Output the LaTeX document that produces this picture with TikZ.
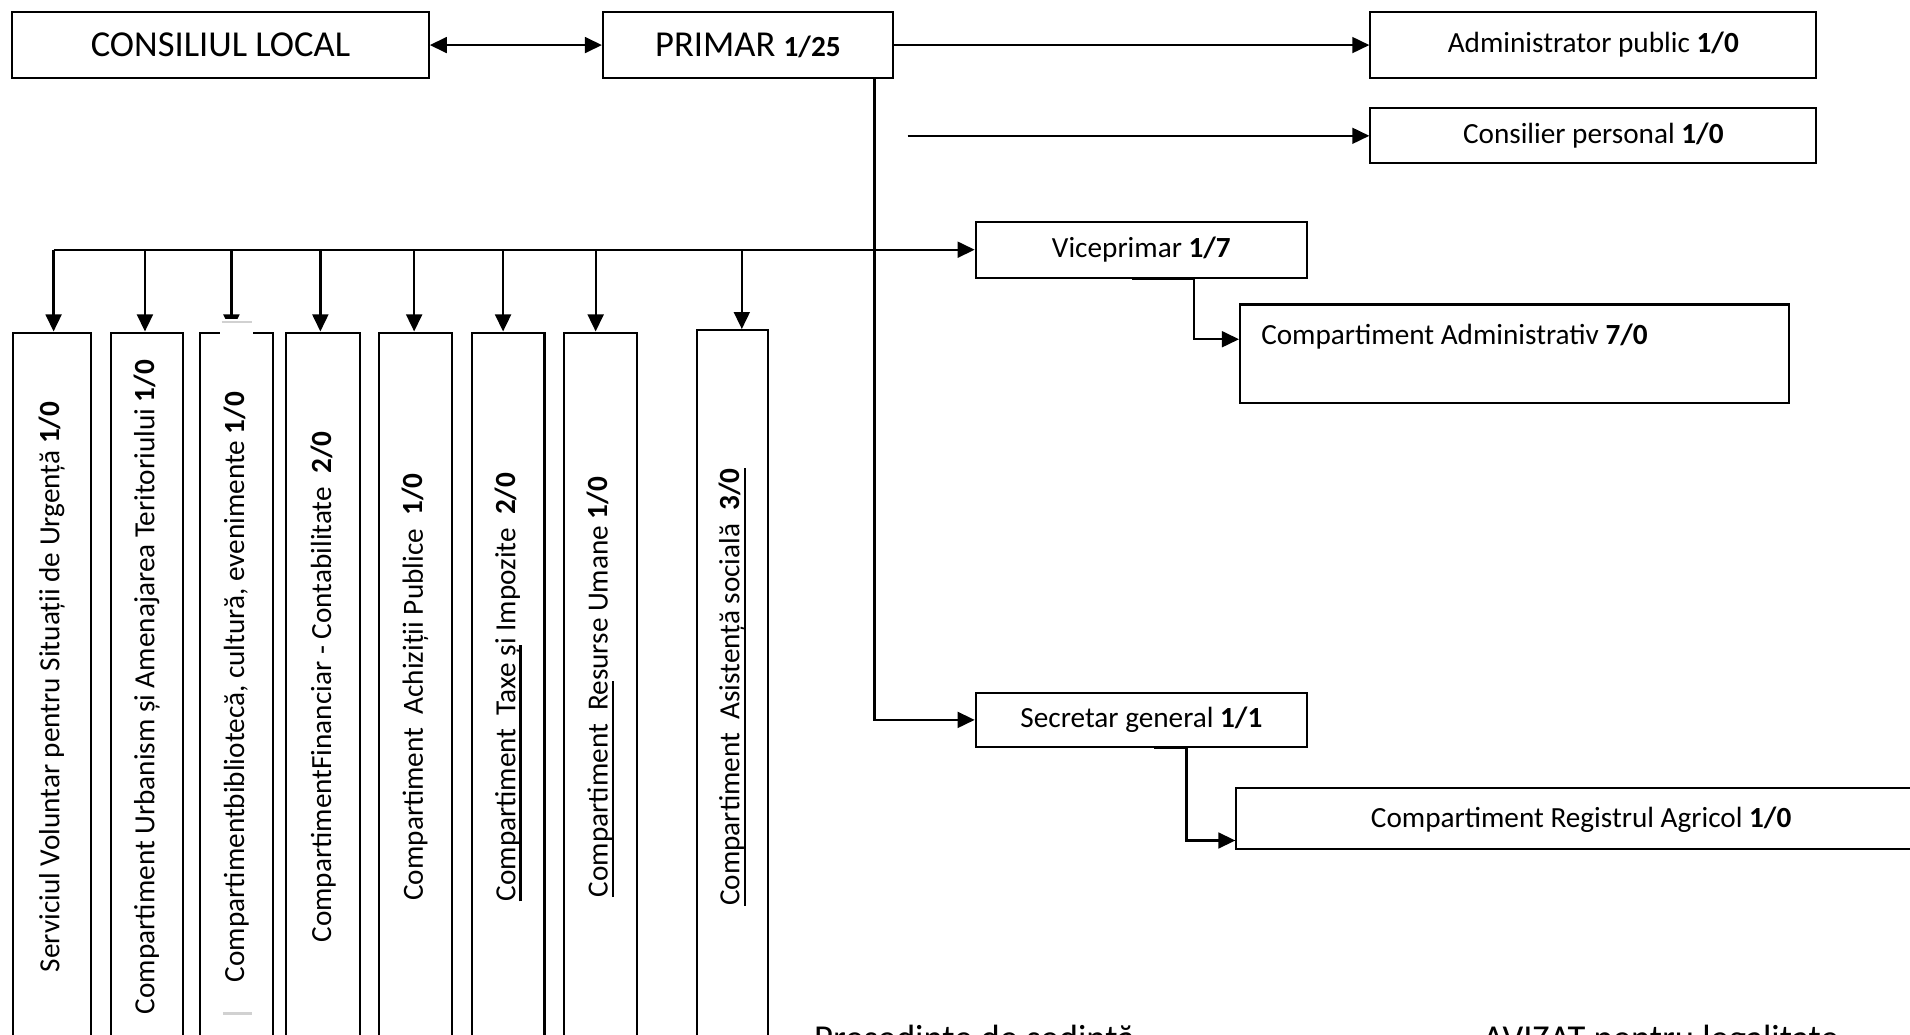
\documentclass[tikz,border=0pt]{standalone}
\usepackage{fontspec}
\setmainfont{Carlito}
\usetikzlibrary{arrows.meta,calc}
\newcommand{\myul}[1]{\setbox0\hbox{#1}\rlap{\rule[-2.6pt]{\wd0}{0.9pt}}\box0}
\begin{document}
\begin{tikzpicture}[x=0.5pt,y=-0.5pt,
  box/.style={draw,line width=0.85pt,inner sep=0pt,font=\fontsize{12}{14}\selectfont},
  bigbox/.style={box,font=\fontsize{15}{18}\selectfont},
  vbox/.style={box,rotate=90,minimum width=291pt},
  lbl/.style={inner sep=0pt,font=\fontsize{12}{14}\selectfont},
  conn/.style={line width=0.95pt},
  arr/.style={conn,-{Triangle[length=7pt,width=6.5pt]}},
  darr/.style={conn,{Triangle[length=7pt,width=6.5pt]}-{Triangle[length=7pt,width=6.5pt]}},
]
\clip (0,0) rectangle (1568,849);
\fill[white] (0,0) rectangle (1568,849);

% top row
\node[bigbox,minimum width=171pt,minimum height=27pt] (cl) at (181,37) {CONSILIUL LOCAL};
\node[bigbox,minimum width=119pt,minimum height=27pt] (primar) at (614,37) {PRIMAR {\fontsize{12}{14}\selectfont\bfseries 1/25}};
\node[box,minimum width=183pt,minimum height=27pt] (admin) at (1308,37) {Administrator public \textbf{1/0}};
\node[box,minimum width=183pt,minimum height=22.5pt] (cons) at (1308,111.5) {Consilier personal \textbf{1/0}};

% right column
\node[box,minimum width=136pt,minimum height=23pt] (vice) at (937,205) {Viceprimar \textbf{1/7}};
\node[box,minimum width=225.5pt,minimum height=40.5pt] (cadm) at (1243.5,290.5) {};
\node[lbl,anchor=west] (cadmt) at (1035,276) {Compartiment Administrativ \textbf{7/0}};
\node[box,minimum width=136pt,minimum height=22pt] (secr) at (937,591) {Secretar general \textbf{1/1}};
\node[box,minimum width=302.5pt,minimum height=25pt] (reg) at (1317.5,672) {};
\node[lbl] (regt) at (1298,673) {Compartiment Registrul Agricol \textbf{1/0}};

% vertical boxes
\node[vbox,minimum height=32pt] (b1) at (42.5,564) {Serviciul Voluntar pentru Situații de Urgență \textbf{1/0}};
\node[vbox,minimum height=29.5pt] (b2) at (120.5,564) {Compartiment Urbanism și Amenajarea Teritoriului \textbf{1/0}};
\node[vbox,minimum height=30pt] (b3) at (194,564) {Compartimentbibliotecă, cultură, evenimente \textbf{1/0}};
\node[vbox,minimum height=30.25pt] (b4) at (265.25,564) {CompartimentFinanciar - Contabilitate\ \ \textbf{2/0}};
\node[vbox,minimum height=30pt] (b5) at (341,564) {Compartiment\ \ Achiziții Publice\ \ \textbf{1/0}};
\node[vbox,minimum height=29.75pt] (b6) at (417.25,564) {\myul{Compartiment\ \ Taxe ș}i Impozite\ \ \textbf{2/0}};
\node[vbox,minimum height=30pt] (b7) at (493,564) {\myul{Compartiment\ \ Re}surse Umane \textbf{1/0}};
\node[vbox,minimum height=29.25pt,minimum width=293pt] (b8) at (601.25,564) {\myul{Compartiment\ \ Asistență socială\ \ \textbf{3/0}}};

% bottom texts (cut by the lower edge, as in the reference)
\node[anchor=base west,inner sep=0pt,font=\fontsize{15}{18}\selectfont] (pres) at (668,862) {Președinte de ședință};
\node[anchor=base west,inner sep=0pt,font=\fontsize{15}{18}\selectfont] (aviz) at (1217,862) {AVIZAT pentru legalitate};

% connectors
\draw[darr] (cl.east) -- (primar.west);
\draw[arr] (primar.east) -- (admin.west);
\coordinate (cs) at (745,111.5);
\draw[arr] (cs) -- (cons.west);
\coordinate (pd) at (718,591);
\draw[arr] (primar.south -| pd) -- (pd) -- (secr.west);

\coordinate (j1) at (44,205);
\coordinate (j2) at (119,205);
\coordinate (j3) at (190,205);
\coordinate (j4) at (263,205);
\coordinate (j5) at (340,205);
\coordinate (j6) at (413,205);
\coordinate (j7) at (489,205);
\coordinate (j8) at (609,205);
\draw[arr] (j1) -- (vice.west);
\foreach \i in {1,...,8} {\draw[arr] (j\i) -- (j\i |- b\i.east);}

\coordinate (va) at (980,278.5);
\draw[arr] ([xshift=-4pt]vice.south) -- (vice.south -| va) -- (va) -- (cadm.west |- va);
\coordinate (sa) at (974,690);
\draw[arr] ([xshift=5pt]secr.south) -- (secr.south -| sa) -- (sa) -- (reg.west |- sa);

% box 3 artefacts
\fill[white] (181,262) rectangle (208,276);
\draw[black!18,line width=0.9pt] (182,264.5) -- (207,264.5);
\draw[black!18,line width=0.9pt] (183,832) -- (207,832);
\end{tikzpicture}
\end{document}
